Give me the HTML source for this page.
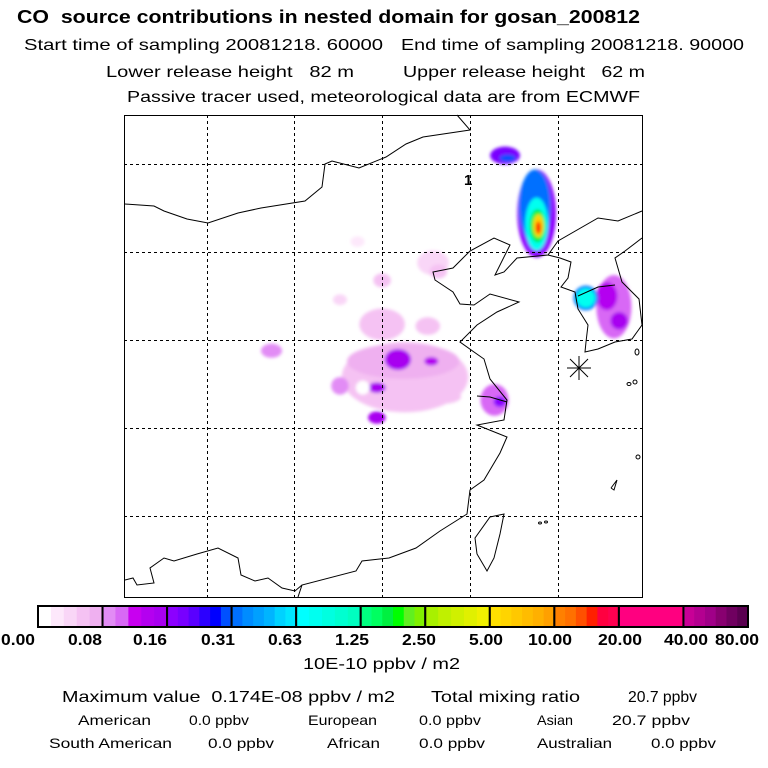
<!DOCTYPE html>
<html><head><meta charset="utf-8"><style>
html,body{margin:0;padding:0;background:#fff;}
svg{display:block;font-family:"Liberation Sans",sans-serif;}
text{white-space:pre;}
</style></head><body>
<svg id="chart" width="768" height="768" viewBox="0 0 768 768">
<defs>
<filter id="blur" x="-50%" y="-50%" width="200%" height="200%"><feGaussianBlur stdDeviation="1.6"/></filter>
<clipPath id="mapclip"><rect x="124" y="115" width="518" height="482"/></clipPath>
</defs>
<g fill="#000">
<text x="17" y="23" font-size="18" font-weight="bold" textLength="623" lengthAdjust="spacingAndGlyphs" xml:space="preserve">CO  source contributions in nested domain for gosan_200812</text>
<text x="24" y="50" font-size="16" textLength="359" lengthAdjust="spacingAndGlyphs">Start time of sampling 20081218. 60000</text>
<text x="401" y="50" font-size="16" textLength="343" lengthAdjust="spacingAndGlyphs">End time of sampling 20081218. 90000</text>
<text x="106" y="77" font-size="16" textLength="248" lengthAdjust="spacingAndGlyphs" xml:space="preserve">Lower release height   82 m</text>
<text x="403" y="77" font-size="16" textLength="242" lengthAdjust="spacingAndGlyphs" xml:space="preserve">Upper release height   62 m</text>
<text x="127" y="102" font-size="16" textLength="513" lengthAdjust="spacingAndGlyphs">Passive tracer used, meteorological data are from ECMWF</text>
</g>
<g id="plumes" clip-path="url(#mapclip)"></g>
<g id="map" fill="none" stroke="#000">
<g stroke-width="1">
<polyline points="125,204 154,206 164,211 187,219 208,223 238,213 261,208 305,201 322,187 325,164 332,161 359,168 386,157 406,144 423,137 470,130 457,115"/>
<polyline points="642,211 618,221 598,218 558,241 548,255 517,258 504,272 495,275 510,245 494,238 470,251 453,268 433,272 435,280 453,292 460,304 474,305 490,294 519,302 497,312 477,325 460,342 474,352 484,359 490,379 507,400 504,420 477,425 507,437 500,453 484,480 470,490 467,514 440,531 416,548 389,558 362,561 356,571 302,585 298,597"/>
<polyline points="548,255 560,258 571,262 568,278 561,287 575,292 578,309 588,325 586,342 585,352 598,349 615,342 632,339 642,325 639,299 622,282 615,258 625,251 642,238"/>
<polyline points="578,296 598,287 615,285"/>
<polygon points="490,517 504,514 500,534 494,558 487,571 477,554 475,538"/>
<polyline points="125,580 133,578 137,585 154,583 150,568 164,558 174,561 197,554 218,548 238,558 241,575 255,581 268,578 282,588 295,591 302,585"/>
<polyline points="477,396 490,397 507,402"/>
<ellipse cx="637" cy="352" rx="2" ry="3"/>
<ellipse cx="635" cy="382" rx="2" ry="2"/>
<ellipse cx="629" cy="384" rx="2" ry="1.5"/>
<ellipse cx="638" cy="457" rx="2" ry="2"/>
<polyline points="611,488 617,480 614,490 611,488"/>
<ellipse cx="540" cy="523" rx="1.5" ry="1"/>
<ellipse cx="546" cy="522" rx="1.5" ry="1"/>
</g>
<g id="grid" stroke-width="1" stroke-dasharray="3,3"></g>
<rect x="124.5" y="115.5" width="518" height="482" stroke-width="1"/>
<text x="464" y="185" font-size="15" font-weight="bold" fill="#000" stroke="none">1</text>
<g stroke-width="1">
<line x1="567" y1="368" x2="591" y2="368"/><line x1="579" y1="356" x2="579" y2="380"/>
<line x1="570" y1="359" x2="588" y2="377"/><line x1="588" y1="359" x2="570" y2="377"/>
</g>
</g>
<g id="colorbar"></g>
<text x="303" y="669" font-size="16" textLength="157" lengthAdjust="spacingAndGlyphs">10E-10 ppbv / m2</text>
<g font-size="16">
<text x="62" y="702" textLength="333" lengthAdjust="spacingAndGlyphs" xml:space="preserve">Maximum value  0.174E-08 ppbv / m2</text>
<text x="431" y="702" textLength="149" lengthAdjust="spacingAndGlyphs">Total mixing ratio</text>
<text x="628" y="702" textLength="69" lengthAdjust="spacingAndGlyphs">20.7 ppbv</text>
</g>
<g font-size="14">
<text x="78" y="725" textLength="73" lengthAdjust="spacingAndGlyphs">American</text>
<text x="189" y="725" textLength="60" lengthAdjust="spacingAndGlyphs">0.0 ppbv</text>
<text x="308" y="725" textLength="69" lengthAdjust="spacingAndGlyphs">European</text>
<text x="419" y="725" textLength="62" lengthAdjust="spacingAndGlyphs">0.0 ppbv</text>
<text x="537" y="725" textLength="36" lengthAdjust="spacingAndGlyphs">Asian</text>
<text x="612" y="725" textLength="78" lengthAdjust="spacingAndGlyphs">20.7 ppbv</text>
<text x="49" y="748" textLength="123" lengthAdjust="spacingAndGlyphs">South American</text>
<text x="208" y="748" textLength="66" lengthAdjust="spacingAndGlyphs">0.0 ppbv</text>
<text x="327" y="748" textLength="53" lengthAdjust="spacingAndGlyphs">African</text>
<text x="419" y="748" textLength="66" lengthAdjust="spacingAndGlyphs">0.0 ppbv</text>
<text x="537" y="748" textLength="75" lengthAdjust="spacingAndGlyphs">Australian</text>
<text x="651" y="748" textLength="65" lengthAdjust="spacingAndGlyphs">0.0 ppbv</text>
</g>
</svg>
<script>
// ---- data ----
const levelLabels = ["0.00","0.08","0.16","0.31","0.63","1.25","2.50","5.00","10.00","20.00","40.00","80.00"];
const levelValues = [0,0.08,0.16,0.31,0.63,1.25,2.5,5,10,20,40,80];
const labelCenters = [18,85,150,218,285,352,419,486,550,620,686,737];
const segmentColors = [
 ["#ffffff","#fde8fb","#f9d6f7","#f5c2f3","#efb0f0"],
 ["#e28cf5","#d868f5","#c800f0","#b400f0","#a800f0"],
 ["#8c00ff","#7800ff","#5a00ff","#2c00ff","#0000ff","#0050ff"],
 ["#0070ff","#008cff","#00a0ff","#00b4ff","#00d2ff","#00e6ff"],
 ["#00ffff","#00fff0","#00ffe0","#00ffd0","#00ffc0"],
 ["#00ff80","#00ff60","#00f040","#00ff00","#60f020","#80f000"],
 ["#a8f000","#c0f000","#d0f000","#e0f000","#f0f000"],
 ["#ffe000","#ffd400","#ffc800","#ffbc00","#ffb000","#ffa000"],
 ["#ff8000","#ff7000","#ff5000","#ff2000","#ff0040","#ff0050"],
 ["#ff0080","#ff0080","#ff0080"],
 ["#c80096","#b40090","#a00088","#880070","#700060","#5a0050"]
];
const gridLons = [105,110,115,120,125];
const gridLats = [45,40,35,30,25];
// plume blobs: lon, lat, radius lon (deg), radius lat (deg), value (10E-10 ppbv/m2)
const plumeLon = [113.6,117.9,118.2,115.0,112.6,115.0,117.6,116.3,116.2,112.6,118.6,115.9,117.8,114.7,114.7,113.9,108.7,121.4,121.7, 128.2,127.8,128.5, 122.0,122.15, 123.8,123.7,126.6,126.6,123.8,123.85,123.9,123.9];
const plumeLat = [40.6,39.4,38.9,38.4,37.3,35.9,35.8,32.9,33.8,32.4,31.8,33.9,33.8,32.3,30.6,32.3,34.4,31.6,31.5, 36.9,37.5,36.1, 45.5,45.35, 42.2,42.6,37.4,37.4,41.6,41.5,41.5,41.4];
const plumeRx  = [0.4,0.9,0.5,0.5,0.4,1.3,0.7,3.6,3.2,0.5,0.9,0.75,0.4,0.5,0.5,0.4,0.6,0.8,0.35, 1.0,0.6,0.5, 0.85,0.45, 1.1,0.9,0.7,0.55,0.65,0.45,0.3,0.15];
const plumeRy  = [0.3,0.7,0.4,0.4,0.3,0.9,0.5,2.0,1.0,0.5,0.4,0.6,0.25,0.3,0.35,0.4,0.4,0.9,0.3, 1.8,0.8,0.5, 0.5,0.2, 2.5,2.1,0.7,0.55,1.5,0.95,0.65,0.35];
const plumeVal = [0.03,0.04,0.05,0.05,0.04,0.06,0.05,0.05,0.07,0.08,0.06,0.15,0.14,0.15,0.15,0,0.09,0.1,0.16, 0.1,0.14,0.15, 0.2,0.3, 0.18,0.35,0.35,0.8,0.8,1.8,6,15];

// ---- axes ----
const lonMin=100.3, lonMax=129.8, latMax=47.8, latMin=20.4;
const X0=124, X1=642, Y0=115, Y1=597;
const xScale = lon => X0 + (lon-lonMin)/(lonMax-lonMin)*(X1-X0);
const yScale = lat => Y0 + (latMax-lat)/(latMax-latMin)*(Y1-Y0);
const pxLon = (X1-X0)/(lonMax-lonMin), pxLat=(Y1-Y0)/(latMax-latMin);
const NS="http://www.w3.org/2000/svg";
function colorFor(v){
  let s=0; while(s<10 && v>=levelValues[s+1]) s++;
  const cols=segmentColors[s];
  const f=(v-levelValues[s])/(levelValues[s+1]-levelValues[s]);
  return cols[Math.min(cols.length-1,Math.floor(f*cols.length))];
}
// grid
const grid=document.getElementById('grid');
gridLons.forEach(lon=>{
  const l=document.createElementNS(NS,'line');
  
  
  const x=Math.round(xScale(lon))+0.5;
  l.setAttribute('x1',x);l.setAttribute('x2',x);l.setAttribute('y1',Y0);l.setAttribute('y2',Y1);
  grid.appendChild(l);
});
gridLats.forEach(lat=>{
  const l=document.createElementNS(NS,'line');
  
  
  const y=Math.round(yScale(lat))+0.5;
  l.setAttribute('y1',y);l.setAttribute('y2',y);l.setAttribute('x1',X0);l.setAttribute('x2',X1);
  grid.appendChild(l);
});
// plumes
const pl=document.getElementById('plumes');
const pg=document.createElementNS(NS,'g'); pg.setAttribute('filter','url(#blur)');


pl.appendChild(pg);
plumeVal.forEach((v,i)=>{
  const e=document.createElementNS(NS,'ellipse');
  
  
  e.setAttribute('cx',xScale(plumeLon[i]));e.setAttribute('cy',yScale(plumeLat[i]));
  e.setAttribute('rx',plumeRx[i]*pxLon);e.setAttribute('ry',plumeRy[i]*pxLat);
  e.setAttribute('fill',colorFor(v));
  pg.appendChild(e);
});
// colorbar
const cb=document.getElementById('colorbar');
const CB0=38, CB1=748, CBy=606, CBh=21, segW=(CB1-CB0)/segmentColors.length;
segmentColors.forEach((cols,s)=>{
  cols.forEach((c,k)=>{
    const r=document.createElementNS(NS,'rect');
    
    
    r.setAttribute('x',CB0+s*segW+k*segW/cols.length);r.setAttribute('y',CBy);
    r.setAttribute('width',segW/cols.length+0.5);r.setAttribute('height',CBh);r.setAttribute('fill',c);
    cb.appendChild(r);
  });
  const b=document.createElementNS(NS,'rect');
  
  
  b.setAttribute('x',CB0+s*segW);b.setAttribute('y',CBy);b.setAttribute('width',segW);b.setAttribute('height',CBh);
  b.setAttribute('fill','none');b.setAttribute('stroke','#000');b.setAttribute('stroke-width','2');
  cb.appendChild(b);
});
levelLabels.forEach((t,i)=>{
  const tx=document.createElementNS(NS,'text');
  
  
  tx.setAttribute('x',labelCenters[i]);tx.setAttribute('y',645);
  tx.setAttribute('text-anchor','middle');tx.setAttribute('font-size','16');tx.setAttribute('font-weight','bold');
  tx.setAttribute('textLength',t.length>4?44:34);tx.setAttribute('lengthAdjust','spacingAndGlyphs');
  tx.textContent=t;
  cb.appendChild(tx);
});
</script>
</body></html>
